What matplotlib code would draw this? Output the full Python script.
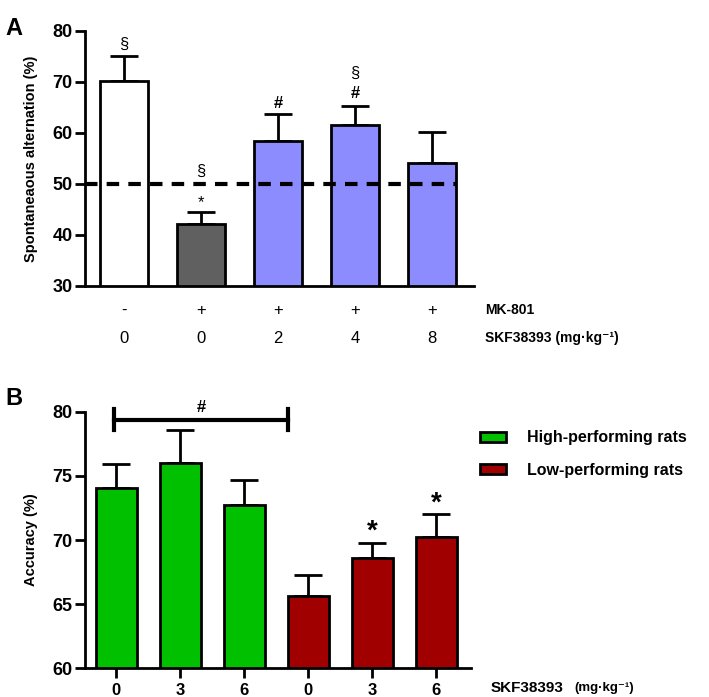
import numpy as np
import matplotlib
matplotlib.use('Agg')
import matplotlib.pyplot as plt
from matplotlib.patches import Patch

plt.rcParams['font.family'] = ['Liberation Sans', 'DejaVu Sans']

# Panel A data
a_mk801 = ['-', '+', '+', '+', '+']
a_dose = ['0', '0', '2', '4', '8']
a_means = [70.2, 42.1, 58.5, 61.5, 54.1]
a_sem = [4.9, 2.5, 5.2, 3.8, 6.1]
a_colors = ['white', '#606060', '#8c8cff', '#8c8cff', '#8c8cff']
# (bar index, symbol, y position in data units)
a_marks = [(0, '§', 75.9), (1, '*', 44.9), (1, '§', 51.0),
           (2, '#', 64.3), (3, '#', 66.2), (3, '§', 70.3)]

# Panel B data
b_dose = ['0', '3', '6', '0', '3', '6']
b_means = [74.1, 76.0, 72.7, 65.6, 68.6, 70.2]
b_sem = [1.8, 2.6, 2.0, 1.7, 1.2, 1.8]
b_colors = ['#00c000'] * 3 + ['#a00000'] * 3
b_groups = ['High-performing rats', 'Low-performing rats']
b_marks = ['', '', '', '', '*', '*']

lw = 2.0
fig = plt.figure(figsize=(7.09, 6.97), dpi=100)

# ---- Panel A ----
axA = fig.add_axes([0.1199, 0.5897, 0.5487, 0.3659])
xa = np.arange(len(a_means))
axA.bar(xa, a_means, width=0.63, color=a_colors, edgecolor='black',
        linewidth=lw, zorder=2)
axA.errorbar(xa, a_means, yerr=[np.zeros(len(a_sem)), a_sem], fmt='none',
             ecolor='black', elinewidth=lw, capsize=10, capthick=lw, zorder=1)
axA.axhline(50, xmin=0, xmax=(4.33 + 0.506) / 5.051, color='black', lw=3,
            ls=(0, (3, 2.2)), zorder=3)
axA.set_ylim(30, 80)
axA.set_xlim(-0.506, 4.545)
axA.set_yticks([30, 40, 50, 60, 70, 80])
axA.set_xticks([])
for s in ['top', 'right']:
    axA.spines[s].set_visible(False)
for s in ['left', 'bottom']:
    axA.spines[s].set_linewidth(lw)
axA.tick_params(axis='y', width=lw, length=7, labelsize=13, pad=2)
for t in axA.get_yticklabels():
    t.set_fontweight('bold')
axA.set_ylabel('Spontaneaous alternation (%)', fontsize=10.5, fontweight='bold',
               labelpad=10)
for i, m, yv in a_marks:
    axA.text(xa[i], yv, m, ha='center', va='bottom', fontsize=12,
             fontweight='bold' if m == '#' else 'normal')
for i in range(len(xa)):
    axA.text(xa[i], 25.2, a_mk801[i], ha='center', va='center', fontsize=12,
             clip_on=False)
    axA.text(xa[i], 19.8, a_dose[i], ha='center', va='center', fontsize=12,
             clip_on=False)
axA.text(4.69, 25.2, 'MK-801', ha='left', va='center', fontsize=10,
         fontweight='bold', clip_on=False)
axA.text(4.69, 19.8, 'SKF38393 (mg·kg⁻¹)', ha='left', va='center', fontsize=10,
         fontweight='bold', clip_on=False)
fig.text(0.008, 0.975, 'A', fontsize=17, fontweight='bold', va='top')

# ---- Panel B ----
axB = fig.add_axes([0.1199, 0.0416, 0.5444, 0.3673])
xb = np.arange(len(b_means))
axB.bar(xb, b_means, width=0.64, color=b_colors, edgecolor='black',
        linewidth=lw, zorder=2)
axB.errorbar(xb, b_means, yerr=[np.zeros(len(b_sem)), b_sem], fmt='none',
             ecolor='black', elinewidth=lw, capsize=10, capthick=lw, zorder=1)
axB.set_ylim(60, 80)
axB.set_xlim(-0.49, 5.54)
axB.set_yticks([60, 65, 70, 75, 80])
axB.set_xticks(xb)
axB.set_xticklabels(b_dose)
for s in ['top', 'right']:
    axB.spines[s].set_visible(False)
for s in ['left', 'bottom']:
    axB.spines[s].set_linewidth(lw)
axB.tick_params(width=lw, length=7, labelsize=13, pad=2)
axB.tick_params(axis='x', labelsize=12, pad=4)
for t in axB.get_yticklabels() + axB.get_xticklabels():
    t.set_fontweight('bold')
axB.set_ylabel('Accuracy (%)', fontsize=10.5, fontweight='bold', labelpad=10)
for i, m in enumerate(b_marks):
    if m:
        axB.text(xb[i], b_means[i] + b_sem[i] - 0.2, m, ha='center', va='bottom',
                 fontsize=20, fontweight='bold')
# bracket
axB.plot([-0.04, 2.68], [79.4, 79.4], color='black', lw=3, clip_on=False)
for xe in [-0.04, 2.68]:
    axB.plot([xe, xe], [78.6, 80.2], color='black', lw=3, clip_on=False)
axB.text(1.32, 79.8, '#', ha='center', va='bottom', fontsize=12,
         fontweight='bold')
axB.text(5.85, 58.45, 'SKF38393', ha='left', va='center', fontsize=11,
         fontweight='bold', clip_on=False)
axB.text(7.15, 58.45, '(mg·kg⁻¹)', ha='left', va='center', fontsize=9.5,
         fontweight='bold', clip_on=False)
handles = [Patch(facecolor=b_colors[0], edgecolor='black', linewidth=lw),
           Patch(facecolor=b_colors[3], edgecolor='black', linewidth=lw)]
fig.legend(handles, b_groups, loc='upper left', bbox_to_anchor=(0.657, 0.403),
           frameon=False, prop={'weight': 'bold', 'size': 11.5},
           handlelength=1.6, handleheight=0.6, labelspacing=1.1,
           handletextpad=1.3)
fig.text(0.008, 0.445, 'B', fontsize=17, fontweight='bold', va='top')

fig.savefig('out.png', dpi=100)
